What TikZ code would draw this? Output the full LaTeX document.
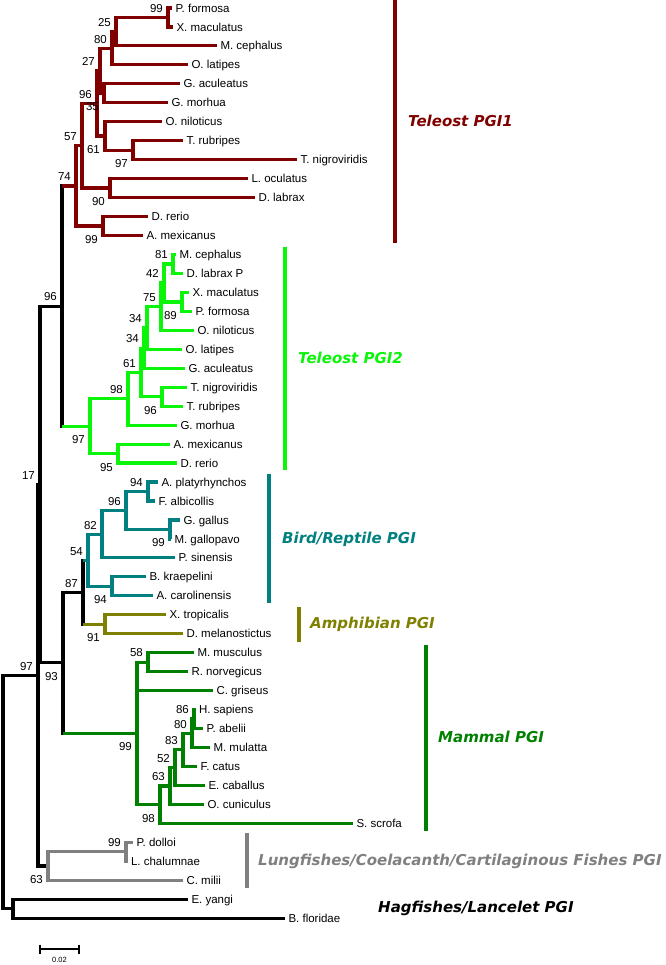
\documentclass[tikz,border=0pt]{standalone}
\usepackage{fontspec}
\setmainfont{Liberation Sans}
\newfontfamily\grpfont{DejaVu Sans}
\definecolor{telA}{RGB}{128,0,0}
\definecolor{telB}{RGB}{10,245,10}
\definecolor{bird}{RGB}{0,128,128}
\definecolor{amph}{RGB}{128,128,0}
\definecolor{mamm}{RGB}{0,128,0}
\definecolor{lung}{RGB}{128,128,128}
\newcommand{\bsa}[2]{\node[bs,anchor=south east] (bs#1) at ([xshift=-5pt,yshift=5pt]#1) {#2};}
\newcommand{\bsb}[2]{\node[bs,anchor=north east] (bs#1) at ([xshift=-5pt,yshift=-9pt]#1) {#2};}

\begin{document}
\begin{tikzpicture}
  [x=1pt,y=-1pt,
   leaf/.style={anchor=west,inner xsep=3.5pt,inner ysep=0pt,outer sep=0pt,
     text height=8.2pt,text depth=0pt,font=\fontsize{11.5}{13}\selectfont},
   bs/.style={inner sep=0pt,text height=8.2pt,text depth=0pt,
     font=\fontsize{11.5}{13}\selectfont},
   grp/.style={anchor=west,inner sep=0pt,text height=11pt,text depth=0pt,
     font=\grpfont\fontsize{15}{18}\selectfont\bfseries\itshape},
   br/.style={line width=3.2pt},
   bar/.style={line width=3.4pt}]
  \useasboundingbox (0,0) rectangle (665,965);

  % inner nodes
  \coordinate (root) at (3,791.9);
  \coordinate (k)    at (13,908.6);
  \coordinate (g97)  at (38,675.2);
  \coordinate (g17)  at (40,484.5);
  \coordinate (g96)  at (62,306.1);
  \coordinate (e93)  at (63,662.8);
  \coordinate (e87)  at (83,592.2);
  \coordinate (h63)  at (48,866.0);
  \coordinate (h99)  at (126,851.7);

  \coordinate (a74)  at (76,186.0);
  \coordinate (a57)  at (82,145.8);
  \coordinate (a96)  at (97,103.4);
  \coordinate (a27)  at (100,70.8);
  \coordinate (a80)  at (112,48.3);
  \coordinate (a25)  at (116,31.7);
  \coordinate (a99)  at (168,17.5);
  \coordinate (a35)  at (104,93.3);
  \coordinate (a61)  at (105,136.0);
  \coordinate (a97)  at (133,150.2);
  \coordinate (a90)  at (110,188.1);
  \coordinate (a99b) at (103,226.1);

  \coordinate (b97)  at (90,426.2);
  \coordinate (b98)  at (128,398.8);
  \coordinate (b61)  at (141,372.4);
  \coordinate (b34b) at (144,348.1);
  \coordinate (b34)  at (147,328.0);
  \coordinate (b75)  at (161,306.7);
  \coordinate (b42)  at (164,283.0);
  \coordinate (b81)  at (173,264.0);
  \coordinate (b89)  at (182,301.9);
  \coordinate (b96)  at (162,396.7);
  \coordinate (b95)  at (118,453.6);

  \coordinate (c54)  at (88,560.2);
  \coordinate (c82)  at (102,534.2);
  \coordinate (c96)  at (126,510.5);
  \coordinate (c94)  at (148,491.5);
  \coordinate (c99)  at (170,529.4);
  \coordinate (c94b) at (112,586.3);
  \coordinate (d91)  at (105,624.2);

  \coordinate (f99)  at (137,733.4);
  \coordinate (f58)  at (148,662.1);
  \coordinate (f98)  at (160,804.6);
  \coordinate (f63)  at (170,786.0);
  \coordinate (f52)  at (175,767.6);
  \coordinate (f83)  at (183,749.8);
  \coordinate (f80)  at (192,733.2);
  \coordinate (f86)  at (194,719.0);

  % leaves
  \node[leaf] (pforA) at (172,8.0)   {P. formosa};
  \node[leaf] (xmacA) at (173,27.0)  {X. maculatus};
  \node[leaf] (mcepA) at (217,45.9)  {M. cephalus};
  \node[leaf] (olatA) at (188,64.9)  {O. latipes};
  \node[leaf] (gacuA) at (180,83.8)  {G. aculeatus};
  \node[leaf] (gmorA) at (168,102.8) {G. morhua};
  \node[leaf] (onilA) at (162,121.8) {O. niloticus};
  \node[leaf] (trubA) at (183,140.7) {T. rubripes};
  \node[leaf] (tnigA) at (297,159.7) {T. nigroviridis};
  \node[leaf] (locu)  at (248,178.6) {L. oculatus};
  \node[leaf] (dlabA) at (255,197.6) {D. labrax};
  \node[leaf] (dreA)  at (148,216.6) {D. rerio};
  \node[leaf] (amexA) at (143,235.5) {A. mexicanus};

  \node[leaf] (mcepB) at (176,254.5) {M. cephalus};
  \node[leaf] (dlabB) at (183,273.4) {D. labrax P};
  \node[leaf] (xmacB) at (189,292.4) {X. maculatus};
  \node[leaf] (pforB) at (192,311.4) {P. formosa};
  \node[leaf] (onilB) at (194,330.3) {O. niloticus};
  \node[leaf] (olatB) at (182,349.3) {O. latipes};
  \node[leaf] (gacuB) at (185,368.2) {G. aculeatus};
  \node[leaf] (tnigB) at (187,387.2) {T. nigroviridis};
  \node[leaf] (trubB) at (183,406.2) {T. rubripes};
  \node[leaf] (gmorB) at (177,425.1) {G. morhua};
  \node[leaf] (amexB) at (170,444.1) {A. mexicanus};
  \node[leaf] (dreB)  at (177,463.0) {D. rerio};

  \node[leaf] (apla)  at (158,482.0) {A. platyrhynchos};
  \node[leaf] (falb)  at (155,501.0) {F. albicollis};
  \node[leaf] (ggal)  at (180,519.9) {G. gallus};
  \node[leaf] (mgal)  at (171,538.9) {M. gallopavo};
  \node[leaf] (psin)  at (175,557.8) {P. sinensis};
  \node[leaf] (bkra)  at (146,576.8) {B. kraepelini};
  \node[leaf] (acar)  at (153,595.8) {A. carolinensis};
  \node[leaf] (xtro)  at (166,614.7) {X. tropicalis};
  \node[leaf] (dmel)  at (183,633.7) {D. melanostictus};

  \node[leaf] (mmus)  at (194,652.6) {M. musculus};
  \node[leaf] (rnor)  at (188,671.6) {R. norvegicus};
  \node[leaf] (cgri)  at (213,690.6) {C. griseus};
  \node[leaf] (hsap)  at (195.5,709.5) {H. sapiens};
  \node[leaf] (pabe)  at (203,728.5) {P. abelii};
  \node[leaf] (mmul)  at (210,747.4) {M. mulatta};
  \node[leaf] (fcat)  at (197,766.4) {F. catus};
  \node[leaf] (ecab)  at (205,785.4) {E. caballus};
  \node[leaf] (ocun)  at (204,804.3) {O. cuniculus};
  \node[leaf] (sscr)  at (353,823.3) {S. scrofa};

  \node[leaf] (pdol)  at (133,842.2) {P. dolloi};
  \node[leaf] (lcha)  at (127.5,861.2) {L. chalumnae};
  \node[leaf] (cmil)  at (183,880.2) {C. milii};
  \node[leaf] (eyan)  at (188,899.1) {E. yangi};
  \node[leaf] (bflo)  at (285,918.1) {B. floridae};

  % branches
  \foreach \from/\to in {root/g97,root/k,g97/g17,g97/h63,g17/g96,g17/e93,g96/a74,g96/b97,
      e93/e87,e93/f99,e87/c54,e87/d91,k/eyan,k/bflo}
    \draw[br] (\from) |- (\to);
  \draw[br,telA] (g96 |- a74) -- (a74);
  \draw[br,telB] (g96 |- b97) -- (b97);
  \draw[br,bird] (e87 |- c54) -- (c54);
  \draw[br,amph] (e87 |- d91) -- (d91);
  \draw[br,mamm] (e93 |- f99) -- (f99);

  \foreach \from/\to in {a74/a57,a74/a99b,a57/a96,a57/a90,a96/a27,a96/a61,a27/a80,a27/a35,
      a80/a25,a80/olatA,a25/a99,a25/mcepA,a99/pforA,a99/xmacA,a35/gacuA,a35/gmorA,
      a61/onilA,a61/a97,a97/trubA,a97/tnigA,a90/locu,a90/dlabA,a99b/dreA,a99b/amexA}
    \draw[br,telA] (\from) |- (\to);
  \foreach \from/\to in {b97/b98,b97/b95,b98/b61,b98/gmorB,b61/b34b,b61/b96,b34b/b34,
      b34b/gacuB,b34/b75,b34/olatB,b75/b42,b75/onilB,b42/b81,b42/b89,b81/mcepB,b81/dlabB,
      b89/xmacB,b89/pforB,b96/tnigB,b96/trubB,b95/amexB,b95/dreB}
    \draw[br,telB] (\from) |- (\to);
  \foreach \from/\to in {c54/c82,c54/c94b,c82/c96,c82/psin,c96/c94,c96/c99,c94/apla,
      c94/falb,c99/ggal,c99/mgal,c94b/bkra,c94b/acar}
    \draw[br,bird] (\from) |- (\to);
  \foreach \from/\to in {d91/xtro,d91/dmel}
    \draw[br,amph] (\from) |- (\to);
  \foreach \from/\to in {f99/f58,f99/cgri,f99/f98,f58/mmus,f58/rnor,f98/f63,f98/sscr,
      f63/f52,f63/ocun,f52/f83,f52/ecab,f83/f80,f83/fcat,f80/f86,f80/mmul,f86/hsap,f86/pabe}
    \draw[br,mamm] (\from) |- (\to);
  \foreach \from/\to in {h63/h99,h63/cmil,h99/pdol,h99/lcha}
    \draw[br,lung] (\from) |- (\to);

  % bootstrap values
  \bsa{a99}{99} \bsa{a25}{25} \bsa{a80}{80} \bsa{a27}{27} \bsa{a96}{96} \bsb{a35}{35}
  \bsa{a57}{57} \bsb{a61}{61} \bsb{a97}{97} \bsa{a74}{74} \bsb{a90}{90} \bsb{a99b}{99}
  \bsa{g96}{96}
  \bsa{b81}{81} \bsa{b42}{42} \bsa{b75}{75} \bsb{b89}{89} \bsa{b34}{34} \bsa{b34b}{34}
  \bsa{b61}{61} \bsa{b98}{98} \bsb{b96}{96} \bsb{b97}{97} \bsb{b95}{95}
  \bsa{g17}{17}
  \bsa{c94}{94} \bsa{c96}{96} \bsb{c99}{99} \bsa{c82}{82} \bsa{c54}{54} \bsb{c94b}{94}
  \bsa{e87}{87} \bsb{d91}{91}
  \bsa{g97}{97} \bsb{e93}{93}
  \bsa{f58}{58} \bsa{f86}{86} \bsa{f80}{80} \bsa{f83}{83} \bsa{f52}{52} \bsa{f63}{63}
  \bsb{f99}{99} \bsb{f98}{98}
  \bsa{h99}{99} \bsb{h63}{63}

  % groups
  \draw[bar,telA] (395,0) -- (395,243);
  \node[grp,text=telA] (tA) at (408,121) {Teleost PGI1};
  \draw[bar,telB] (285,247) -- (285,470);
  \node[grp,text=telB] (tB) at (298,358) {Teleost PGI2};
  \draw[bar,bird] (269,474) -- (269,603);
  \node[grp,text=bird] (tC) at (282,538) {Bird/Reptile PGI};
  \draw[bar,amph] (299,607) -- (299,642);
  \node[grp,text=amph] (tD) at (310,623) {Amphibian PGI};
  \draw[bar,mamm] (426,645) -- (426,831);
  \node[grp,text=mamm] (tE) at (438,737) {Mammal PGI};
  \draw[bar,lung] (247,833) -- (247,888);
  \node[grp,text=lung] (tF) at (258,860) {Lungfishes/Coelacanth/Cartilaginous Fishes PGI};
  \node[grp] (tG) at (378,907) {Hagfishes/Lancelet PGI};

  % scale
  \draw[line width=2.2pt] (40,949.3) -- (79,949.3);
  \draw[line width=1.6pt] (40,944.5) -- (40,954);
  \draw[line width=1.6pt] (79,944.5) -- (79,954);
  \node[inner sep=0pt,font=\fontsize{7.5}{9}\selectfont] (sc) at (59.5,960) {0.02};
\end{tikzpicture}
\end{document}
